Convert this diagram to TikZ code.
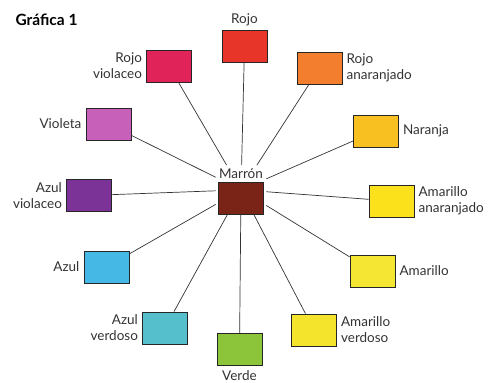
\documentclass[tikz,border=0pt]{standalone}
\usepackage{fontspec}
\setmainfont{Lato}
\usepackage{xcolor}
\usepackage{tikz}
\usetikzlibrary{positioning, fit}

\definecolor{rojo}{HTML}{E8352A}
\definecolor{rojovio}{HTML}{E0245A}
\definecolor{violeta}{HTML}{C660B8}
\definecolor{azulvio}{HTML}{7B3398}
\definecolor{azul}{HTML}{45B8E6}
\definecolor{azulver}{HTML}{55BFCB}
\definecolor{verde}{HTML}{8CC43A}
\definecolor{amaver}{HTML}{F5E42C}
\definecolor{amarillo}{HTML}{F5E633}
\definecolor{amaana}{HTML}{FBE01C}
\definecolor{naranja}{HTML}{F9C021}
\definecolor{rojoana}{HTML}{F27E2E}
\definecolor{marron}{HTML}{7A2418}

\begin{document}
\begin{tikzpicture}[x=1pt, y=-1pt,
    colbox/.style={draw=black!85, line width=0.8pt, minimum width=45pt, minimum height=32pt, inner sep=0pt},
    tag/.style={font=\fontsize{13.5}{16}\selectfont, text=black!80, inner sep=3pt},
    every label/.style={tag},
    label distance=1pt,
    spoke/.style={draw=black!80, line width=0.7pt}]
    \useasboundingbox (0,0) rectangle (488,383);

    \node[font=\bfseries\fontsize{15.5}{18}\selectfont, anchor=base west] (title) at (12,25) {Gráfica 1};

    \node[colbox, fill=marron] (marron) at (241,198) {};
    \node[tag, above=0pt of marron] (mlabel) {Marrón};
    \node[fit=(marron)(mlabel), inner sep=0pt] (hub) {};

    \node[colbox, fill=rojo, label=above:Rojo] (rojo) at (244.5,46.5) {};
    \node[colbox, fill=rojovio, label={[align=right]left:Rojo\\violaceo}] (rojovio) at (169,66) {};
    \node[colbox, fill=violeta, label=left:Violeta] (violeta) at (108.5,124) {};
    \node[colbox, fill=azulvio, label={[align=right]left:Azul\\violaceo}] (azulvio) at (89,195.5) {};
    \node[colbox, fill=azul, label=left:Azul] (azul) at (106.5,267) {};
    \node[colbox, fill=azulver, label={[align=right]left:Azul\\verdoso}] (azulver) at (165,328) {};
    \node[colbox, fill=verde, label=below:Verde] (verde) at (239.5,349.5) {};
    \node[colbox, fill=amaver, label={[align=left]right:Amarillo\\verdoso}] (amaver) at (314,330) {};
    \node[colbox, fill=amarillo, label=right:Amarillo] (amarillo) at (372.5,271) {};
    \node[colbox, fill=amaana, label={[align=left]right:Amarillo\\anaranjado}] (amaana) at (391.5,201) {};
    \node[colbox, fill=naranja, label=right:Naranja] (naranja) at (376,131) {};
    \node[colbox, fill=rojoana, label={[align=left]right:Rojo\\anaranjado}] (rojoana) at (319.5,68) {};

    \foreach \c in {rojo,rojovio,violeta,azulvio,azul,azulver,verde,amaver,amarillo,amaana,naranja,rojoana}
        \draw[spoke] (\c) -- (hub);
\end{tikzpicture}
\end{document}
